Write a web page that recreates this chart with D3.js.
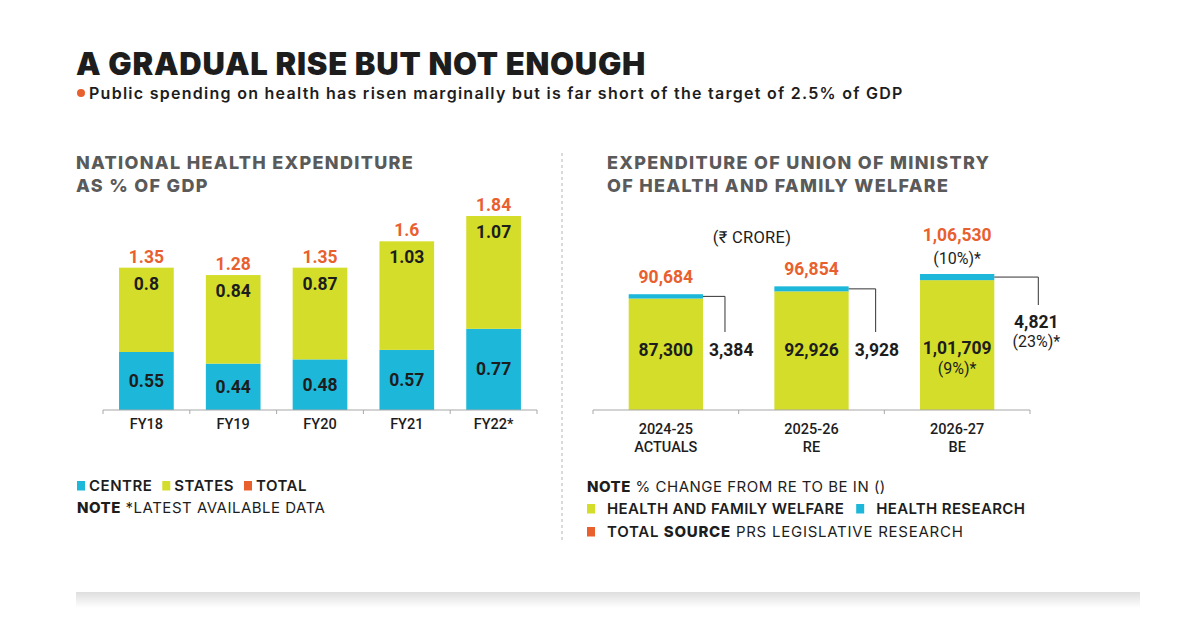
<!DOCTYPE html>
<html>
<head>
<meta charset="utf-8">
<script src="https://cdn.jsdelivr.net/npm/d3@7"></script>
<style>
  body { margin: 0; background: #fff; }
  svg { display: block; }
</style>
</head>
<body>
<div id="chart"></div>
<script>
// left panel: national health expenditure, % of GDP
const years = ["FY18", "FY19", "FY20", "FY21", "FY22*"]
const centre = [0.55, 0.44, 0.48, 0.57, 0.77]
const states = [0.8, 0.84, 0.87, 1.03, 1.07]
const total = [1.35, 1.28, 1.35, 1.6, 1.84]

// right panel: union ministry expenditure, Rs crore
const periods = ["2024-25", "2025-26", "2026-27"]
const periodTypes = ["ACTUALS", "RE", "BE"]
const welfare = [87300, 92926, 101709]
const research = [3384, 3928, 4821]
const totals = [90684, 96854, 106530]
const welfareChange = [null, null, "(9%)*"]
const researchChange = [null, null, "(23%)*"]
const totalChange = [null, null, "(10%)*"]

const BLUE = "#1db7da", LIME = "#d4dd2a", ORANGE = "#e9602f", INK = "#1d1d1d", GREY = "#5a5a5a"
const HEAD = "Inter, 'Noto Sans', sans-serif"
const NUM = "Roboto, 'Noto Sans', sans-serif"

// indian digit grouping: 1,06,530
function inr(n){
    let s = String(n)
    if (s.length <= 3) return s
    let last = s.slice(-3), rest = s.slice(0, -3)
    return rest.replace(/\B(?=(\d{2})+(?!\d))/g, ",") + "," + last
}

let svg = d3.select("#chart").append("svg")
    .attr("width", 1200)
    .attr("height", 632)

// shadow strip at the bottom
let grad = svg.append("defs").append("linearGradient")
    .attr("id", "shade").attr("x1", 0).attr("x2", 0).attr("y1", 0).attr("y2", 1)
grad.append("stop").attr("offset", "0%").attr("stop-color", "#dedede")
grad.append("stop").attr("offset", "100%").attr("stop-color", "#ffffff")
svg.append("rect")
    .attr("x", 76).attr("y", 592).attr("width", 1064).attr("height", 16)
    .attr("fill", "url(#shade)")

//HEADLINE
svg.append("text")
    .attr("x", 76).attr("y", 75)
    .attr("font-family", HEAD).attr("font-weight", 900).attr("font-size", 31)
    .attr("fill", INK).attr("letter-spacing", 0.75)
    .text("A GRADUAL RISE BUT NOT ENOUGH")

svg.append("circle").attr("cx", 81).attr("cy", 93).attr("r", 4).attr("fill", ORANGE)
svg.append("text")
    .attr("x", 89).attr("y", 98.5)
    .attr("font-family", HEAD).attr("font-weight", 600).attr("font-size", 16)
    .attr("fill", INK).attr("letter-spacing", 1.27)
    .text("Public spending on health has risen marginally but is far short of the target of 2.5% of GDP")

function panelTitle(x, lines){
    lines.forEach(function(t, i){
        svg.append("text")
            .attr("x", x).attr("y", 168.5 + i * 23)
            .attr("font-family", HEAD).attr("font-weight", 800).attr("font-size", 18)
            .attr("fill", GREY).attr("letter-spacing", 1.3)
            .text(t)
    })
}
panelTitle(76, ["NATIONAL HEALTH EXPENDITURE", "AS % OF GDP"])
panelTitle(607, ["EXPENDITURE OF UNION OF MINISTRY", "OF HEALTH AND FAMILY WELFARE"])

// dashed divider
svg.append("line")
    .attr("x1", 562).attr("x2", 562).attr("y1", 153).attr("y2", 540)
    .attr("stroke", "#b5b5b5").attr("stroke-dasharray", "3,3")

function valueText(g, x, y, txt, colour, weight, size){
    return g.append("text")
        .attr("x", x).attr("y", y)
        .attr("text-anchor", "middle")
        .attr("font-family", NUM).attr("font-weight", weight || 700)
        .attr("font-size", size || 17.5)
        .attr("fill", colour || INK)
        .text(txt)
}

// band axis with ticks on the band boundaries
function bandAxis(x, yBase, pad){
    let g = svg.append("g")
    let r = x.range()
    g.append("line")
        .attr("x1", r[0]).attr("x2", r[1]).attr("y1", yBase).attr("y2", yBase)
        .attr("stroke", "#a8a8a8").attr("stroke-width", 1.2)
    let edges = x.domain().map(function(d){ return x(d) - x.step() * pad }).concat([r[1]])
    g.selectAll(".edge").data(edges).enter().append("line")
        .attr("x1", function(d){ return d }).attr("x2", function(d){ return d })
        .attr("y1", yBase).attr("y2", yBase + 4)
        .attr("stroke", "#a8a8a8")
    return g
}

//LEFT CHART
let rowsL = years.map(function(y, i){ return {year: y, centre: centre[i], states: states[i], total: total[i]} })

let xL = d3.scaleBand()
    .domain(years)
    .range([103, 537])
    .paddingInner(0.37)
    .paddingOuter(0.185)

let yL = d3.scaleLinear()
    .domain([0, d3.max(total)])
    .range([410, 216])

let stackL = d3.stack().keys(["centre", "states"])(rowsL)
let left = svg.append("g")

left.selectAll(".layer").data(stackL).enter().append("g")
    .attr("fill", function(d){ return d.key == "centre" ? BLUE : LIME })
    .selectAll("rect").data(function(d){ return d }).enter().append("rect")
        .attr("x", function(d){ return xL(d.data.year) })
        .attr("width", xL.bandwidth())
        .attr("y", function(d){ return yL(d[1]) })
        .attr("height", function(d){ return yL(d[0]) - yL(d[1]) })

rowsL.forEach(function(d){
    let cx = xL(d.year) + xL.bandwidth() / 2
    valueText(left, cx, (yL(0) + yL(d.centre)) / 2 + 6, d.centre)
    valueText(left, cx, yL(d.total) + 22, d.states)
    valueText(left, cx, yL(d.total) - 5, d.total, ORANGE)
})

bandAxis(xL, 410, 0.185)
left.selectAll(".cat").data(years).enter().append("text")
    .attr("x", function(d){ return xL(d) + xL.bandwidth() / 2 })
    .attr("y", 428.5)
    .attr("text-anchor", "middle")
    .attr("font-family", NUM).attr("font-weight", 500).attr("font-size", 14.5)
    .attr("fill", INK)
    .text(function(d){ return d })

//RIGHT CHART
let xR = d3.scaleBand()
    .domain(periods)
    .range([593, 1030])
    .paddingInner(0.49)
    .paddingOuter(0.245)

let yR = d3.scaleLinear()
    .domain([0, d3.max(totals)])
    .range([410, 274])

let rowsR = periods.map(function(p, i){
    return {period: p, type: periodTypes[i], welfare: welfare[i], research: research[i], total: totals[i],
        wc: welfareChange[i], rc: researchChange[i], tc: totalChange[i]}
})
let stackR = d3.stack().keys(["welfare", "research"])(rowsR)
let right = svg.append("g")

svg.append("text")
    .attr("x", 752).attr("y", 243)
    .attr("text-anchor", "middle")
    .attr("font-family", NUM).attr("font-size", 16.5)
    .attr("fill", INK).attr("letter-spacing", 0.3)
    .text("(₹ CRORE)")

right.selectAll(".layer").data(stackR).enter().append("g")
    .attr("fill", function(d){ return d.key == "welfare" ? LIME : BLUE })
    .selectAll("rect").data(function(d){ return d }).enter().append("rect")
        .attr("x", function(d){ return xR(d.data.period) })
        .attr("width", xR.bandwidth())
        .attr("y", function(d){ return yR(d[1]) })
        .attr("height", function(d){ return yR(d[0]) - yR(d[1]) })

rowsR.forEach(function(d){
    let x0 = xR(d.period), bw = xR.bandwidth(), cx = x0 + bw / 2
    let top = yR(d.total)

    // totals above the bar
    if (d.tc){
        valueText(right, cx, top - 33, inr(d.total), ORANGE)
        valueText(right, cx, top - 10, d.tc, INK, 400, 16)
    } else {
        valueText(right, cx, top - 11, inr(d.total), ORANGE)
    }

    // welfare figure inside the bar
    if (d.wc){
        valueText(right, cx, 353.5, inr(d.welfare))
        valueText(right, cx, 373.5, d.wc, INK, 400, 16)
    } else {
        valueText(right, cx, 356, inr(d.welfare))
    }

    // research figure with connector from the thin segment
    let segMid = (yR(d.welfare) + top) / 2
    let lineX, lineEnd
    if (d.rc){
        lineX = x0 + bw + 44
        lineEnd = 305
        valueText(right, lineX - 2, 327.5, inr(d.research))
        valueText(right, lineX - 2, 347, d.rc, INK, 400, 16)
    } else {
        lineX = x0 + bw + 22 + (d.period == "2025-26" ? 5 : 0)
        lineEnd = 332
        right.append("text")
            .attr("x", x0 + bw + 6).attr("y", 356)
            .attr("font-family", NUM).attr("font-weight", 700).attr("font-size", 17.5)
            .attr("fill", INK)
            .text(inr(d.research))
    }
    right.append("path")
        .attr("d", `M${x0 + bw},${segMid}H${lineX}V${lineEnd}`)
        .attr("fill", "none").attr("stroke", "#333").attr("stroke-width", 1)
})

bandAxis(xR, 410, 0.245)
rowsR.forEach(function(d){
    let cx = xR(d.period) + xR.bandwidth() / 2
    right.append("text")
        .attr("x", cx).attr("y", 433.5).attr("text-anchor", "middle")
        .attr("font-family", NUM).attr("font-weight", 500).attr("font-size", 14.5)
        .attr("fill", INK).text(d.period)
    right.append("text")
        .attr("x", cx).attr("y", 451.5).attr("text-anchor", "middle")
        .attr("font-family", NUM).attr("font-weight", 500).attr("font-size", 14.5)
        .attr("fill", INK).text(d.type)
})

//LEGENDS
// a legend row: items are [swatch colour or null, [[text, weight], ...], extra gap after swatch]
function legendRow(x, y, items, gap, spacing){
    let cur = x
    items.forEach(function(it){
        if (it[0]){
            svg.append("rect")
                .attr("x", cur).attr("y", y - 10).attr("width", 8).attr("height", 9.5)
                .attr("fill", it[0])
            cur += 12 + (it[2] || 0)
        }
        let t = svg.append("text")
            .attr("x", cur).attr("y", y)
            .attr("font-family", HEAD).attr("font-size", 15)
            .attr("fill", INK).attr("letter-spacing", spacing == null ? 0.5 : spacing)
        it[1].forEach(function(part){
            t.append("tspan").attr("font-weight", part[1]).text(part[0])
        })
        cur += t.node().getComputedTextLength() + gap
    })
}

legendRow(77, 491, [[BLUE, [["CENTRE", 600]]], [LIME, [["STATES", 600]]], [ORANGE, [["TOTAL", 600]]]], 10)
legendRow(77, 513, [[null, [["NOTE", 800], [" *LATEST AVAILABLE DATA", 400]]]], 0)

legendRow(587, 492, [[null, [["NOTE", 800], [" % CHANGE FROM RE TO BE IN ()", 400]]]], 0)
legendRow(587, 514, [[LIME, [["HEALTH AND FAMILY WELFARE", 600]], 8], [BLUE, [["HEALTH RESEARCH", 600]], 8]], 12, 0.35)
legendRow(587, 537, [[ORANGE, [["TOTAL ", 600], ["SOURCE", 800], [" PRS LEGISLATIVE RESEARCH", 400]], 8]], 0, 0.75)
</script>
</body>
</html>
